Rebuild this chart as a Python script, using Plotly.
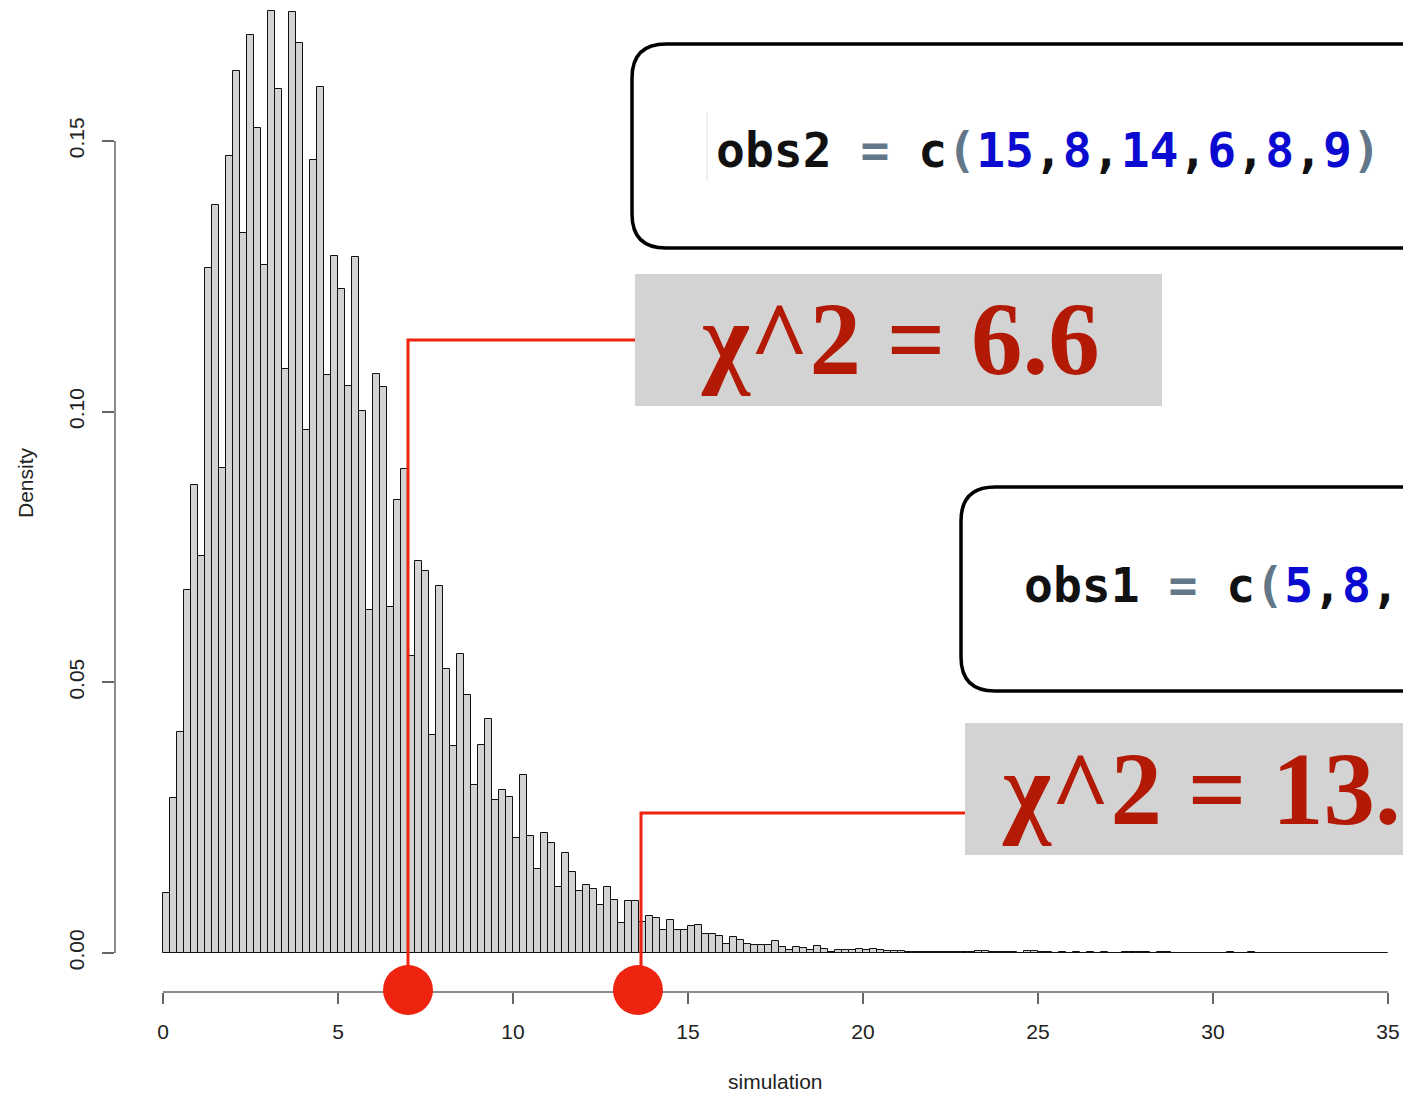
import plotly.graph_objects as go

# ---------------- data ----------------
bin_width = 0.2
density = [
    0.0111, 0.0287, 0.0409, 0.0671, 0.0865, 0.0734, 0.1266, 0.1381, 0.0896, 0.1472,
    0.1630, 0.1330, 0.1695, 0.1524, 0.1271, 0.1740, 0.1596, 0.1078, 0.1738, 0.1680,
    0.0966, 0.1464, 0.1600, 0.1068, 0.1288, 0.1226, 0.1048, 0.1286, 0.1001, 0.0633,
    0.1069, 0.1045, 0.0639, 0.0836, 0.0894, 0.0548, 0.0724, 0.0706, 0.0403, 0.0678,
    0.0525, 0.0382, 0.0552, 0.0476, 0.0310, 0.0385, 0.0432, 0.0283, 0.0302, 0.0289,
    0.0212, 0.0329, 0.0216, 0.0156, 0.0221, 0.0204, 0.0122, 0.0185, 0.0149, 0.0114,
    0.0125, 0.0119, 0.0089, 0.0122, 0.0097, 0.0055, 0.0096, 0.0096, 0.0058, 0.0069,
    0.0065, 0.0042, 0.0061, 0.0042, 0.0042, 0.0050, 0.0052, 0.0035, 0.0035, 0.0032,
    0.0017, 0.0030, 0.0024, 0.0016, 0.0014, 0.0014, 0.0014, 0.0022, 0.0012, 0.0006,
    0.0012, 0.0009, 0.0006, 0.0013, 0.0007, 0.0002, 0.0005, 0.0005, 0.0005, 0.0008,
    0.0005, 0.0007, 0.0006, 0.0004, 0.0003, 0.0003, 0.0002, 0.0002, 0.0002, 0.0001,
    0.0002, 0.0002, 0.0001, 0.0002, 0.0002, 0.0001, 0.0003, 0.0003, 0.0001, 0.0001,
    0.0001, 0.0001, 0.00004, 0.0003, 0.0003, 0.0001, 0.0001, 0.00004, 0.0001, 0.00004,
    0.0001, 0.00004, 0.0001, 0.00004, 0.0001, 0.00004, 0.00004, 0.0001, 0.0002, 0.0002,
    0.0001, 0.00004, 0.0002, 0.0001, 0.00004, 0.00004, 0.00004, 0.00004, 0.00004, 0.00004,
    0.00004, 0.00004, 0.0002, 0.00004, 0.00004, 0.0002, 0.00004, 0.00004, 0.00004, 0.00004,
    0.00004, 0.00004, 0.00004, 0.00004, 0.00004, 0.00004, 0.00004, 0.00004, 0.00004, 0.00004,
    0.00004, 0.00004, 0.00004, 0.00004, 0.00004,
]
bin_centers = [bin_width / 2 + bin_width * i for i in range(len(density))]

x_ticks = [0, 5, 10, 15, 20, 25, 30, 35]
y_ticks = [0.00, 0.05, 0.10, 0.15]
y_tick_labels = ["0.00", "0.05", "0.10", "0.15"]
x_title = "simulation"
y_title = "Density"

chi_obs_points = [7.0, 13.57]          # red dots on the axis
chi_labels = ["χ^2 = 6.6", "χ^2 = 13."]
code_obs2 = [("obs2", "k"), (" ", "k"), ("=", "g"), (" ", "k"), ("c", "k"), ("(", "g"),
             ("15", "b"), (",", "k"), ("8", "b"), (",", "k"), ("14", "b"), (",", "k"),
             ("6", "b"), (",", "k"), ("8", "b"), (",", "k"), ("9", "b"), (")", "g")]
code_obs1 = [("obs1", "k"), (" ", "k"), ("=", "g"), (" ", "k"), ("c", "k"), ("(", "g"),
             ("5", "b"), (",", "k"), ("8", "b"), (",", "k")]

# ---------------- layout geometry ----------------
OFF = 0                      # page offset of the figure (body margin removed below)
PAGE_W, PAGE_H = 1403, 1093
W, H = PAGE_W - OFF, PAGE_H - OFF
ML, MR, MT, MB = 115 - OFF, 0, 0, PAGE_H - 992
PW, PH = W - ML - MR, H - MT - MB
PX_PER_X = 35.0
PX_PER_Y = 5414.0
x_range = [-(163 - 115) / PX_PER_X, 35 + (PAGE_W - 1388) / PX_PER_X]
y_range = [-(992 - 953) / PX_PER_Y, (953 - OFF) / PX_PER_Y]


def px(xp):   # page x -> paper x
    return (xp - OFF - ML) / PW


def py(yp):   # page y -> paper y
    return (MT + PH - (yp - OFF)) / PH


def dx(xp):   # page x -> data x
    return (xp - 163) / PX_PER_X


def dy(yp):   # page y -> data y
    return (953 - yp) / PX_PER_Y


COL = {"k": "#111111", "g": "#647789", "b": "#0a0ad0"}


def rich(parts):
    return "".join(f'<span style="color:{COL[c]}">{t}</span>' for t, c in parts)


RED = "#ee2310"
DARKRED = "#b31a06"
GRAY = "#d3d3d3"
AXIS = "#666666"

fig = go.Figure()
fig.add_trace(go.Bar(
    x=bin_centers, y=density, width=[bin_width] * len(density),
    marker=dict(color="#d3d3d3", line=dict(color="#111111", width=1)),
    showlegend=False, hoverinfo="x+y",
))
fig.add_trace(go.Scatter(
    x=chi_obs_points, y=[dy(990)] * len(chi_obs_points), mode="markers",
    marker=dict(color=RED, size=50, line=dict(width=0)),
    cliponaxis=False, showlegend=False,
))

shapes = []
# axis lines (R style, detached)
shapes.append(dict(type="line", xref="x", yref="paper", x0=x_ticks[0], x1=x_ticks[-1], y0=0, y1=0,
                   line=dict(color=AXIS, width=1.5), layer="below"))
shapes.append(dict(type="line", xref="paper", yref="y", x0=0, x1=0, y0=y_ticks[0], y1=y_ticks[-1],
                   line=dict(color=AXIS, width=1.5), layer="below"))


def rounded_box(left, top, bottom, right, r):
    L, T, B, R = px(left), py(top), py(bottom), px(right)
    rx = r / PW
    ry = r / PH
    return (f"M {R},{T} L {L + rx},{T} Q {L},{T} {L},{T - ry} "
            f"L {L},{B + ry} Q {L},{B} {L + rx},{B} L {R},{B}")


shapes.append(dict(type="path", xref="paper", yref="paper",
                   path=rounded_box(632, 44, 248, PAGE_W, 34),
                   line=dict(color="#000000", width=3.5)))
shapes.append(dict(type="path", xref="paper", yref="paper",
                   path=rounded_box(961, 487, 691, PAGE_W, 34),
                   line=dict(color="#000000", width=3.5)))
# faint cursor line
shapes.append(dict(type="line", xref="paper", yref="paper", x0=px(707), x1=px(707),
                   y0=py(112), y1=py(181), line=dict(color="#e2e2e2", width=1)))
# gray label boxes
shapes.append(dict(type="rect", xref="paper", yref="paper", x0=px(635), x1=px(1162),
                   y0=py(406), y1=py(274), fillcolor=GRAY, line=dict(width=0)))
shapes.append(dict(type="rect", xref="paper", yref="paper", x0=px(965), x1=px(PAGE_W),
                   y0=py(855), y1=py(723), fillcolor=GRAY, line=dict(width=0)))
# red connector lines
shapes.append(dict(type="path", xref="x", yref="y",
                   path=f"M {dx(635)},{dy(340)} L {chi_obs_points[0]},{dy(340)} L {chi_obs_points[0]},{dy(975)}",
                   line=dict(color=RED, width=3)))
shapes.append(dict(type="path", xref="x", yref="y",
                   path=f"M {dx(965)},{dy(813)} L {dx(641)},{dy(813)} L {dx(641)},{dy(975)}",
                   line=dict(color=RED, width=3)))

annotations = [
    dict(xref="paper", yref="paper", x=px(714), y=py(150), xanchor="left", yanchor="middle",
         text=rich(code_obs2), showarrow=False,
         font=dict(family="DejaVu Sans Mono", size=48, weight="bold", color="#111111")),
    dict(xref="paper", yref="paper", x=px(1022), y=py(585), xanchor="left", yanchor="middle",
         text=rich(code_obs1), showarrow=False,
         font=dict(family="DejaVu Sans Mono", size=48, weight="bold", color="#111111")),
    dict(xref="paper", yref="paper", x=px(900), y=py(339), xanchor="center", yanchor="middle",
         text=chi_labels[0], showarrow=False,
         font=dict(family="Liberation Serif, Times New Roman, serif", size=103, weight="bold",
                   color=DARKRED)),
    dict(xref="paper", yref="paper", x=px(1000), y=py(789), xanchor="left", yanchor="middle",
         text=chi_labels[1], showarrow=False,
         font=dict(family="Liberation Serif, Times New Roman, serif", size=103, weight="bold",
                   color=DARKRED)),
    # axis titles (R centres them on the data extent)
    dict(xref="x", yref="paper", x=(x_ticks[0] + x_ticks[-1]) / 2, y=py(1081),
         xanchor="center", yanchor="middle", text=x_title, showarrow=False, borderpad=0,
         font=dict(size=21, color="#222222")),
    dict(xref="paper", yref="paper", x=px(25), y=py(483), xanchor="center", yanchor="middle",
         text=y_title, textangle=-90, showarrow=False,
         font=dict(size=21, color="#222222")),
]

fig.update_layout(
    width=W, height=H, autosize=False,
    margin=dict(l=ML, r=MR, t=MT, b=MB, pad=0),
    paper_bgcolor="white", plot_bgcolor="white",
    bargap=0, shapes=shapes, annotations=annotations,
    font=dict(family="Liberation Sans, Arial, sans-serif", size=21, color="#222222"),
    xaxis=dict(range=x_range, tickvals=x_ticks, ticks="outside", ticklen=11, tickwidth=1.5,
               tickcolor=AXIS, showline=False, showgrid=False, zeroline=False,
               tickfont=dict(size=21), ticklabelstandoff=10),
    yaxis=dict(range=y_range, tickvals=y_ticks, ticktext=y_tick_labels, ticks="outside",
               ticklen=12, tickwidth=1.5, tickcolor=AXIS, showline=False, showgrid=False,
               zeroline=False, tickangle=-90, tickfont=dict(size=21), ticklabelstandoff=10),
)

fig.write_html(
    "out.html",
    config={"displayModeBar": False},
    post_script="document.body.style.margin='0';document.body.style.overflow='hidden';",
)
